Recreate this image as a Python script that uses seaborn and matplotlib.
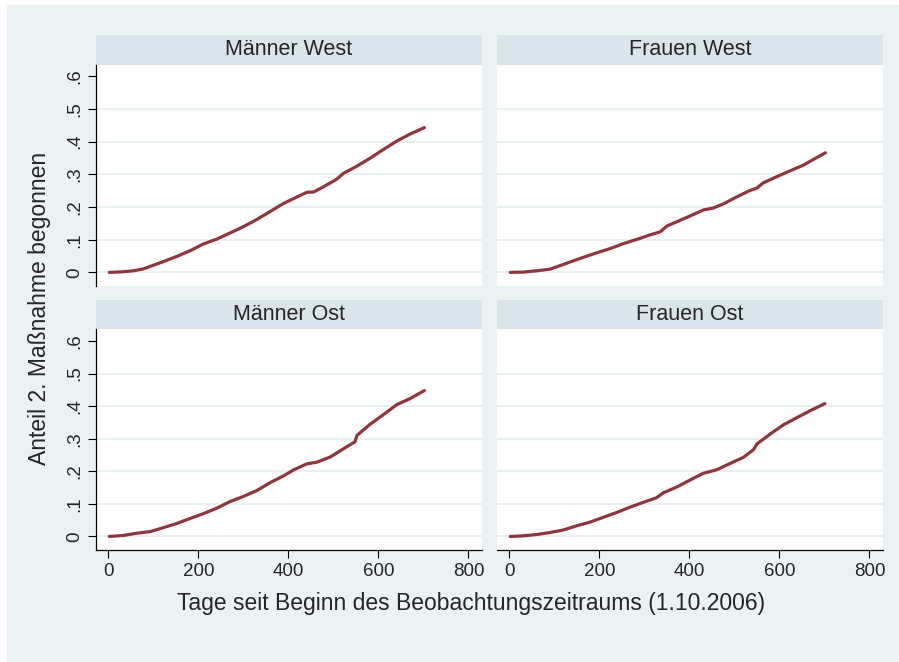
import pandas as pd
import matplotlib
matplotlib.use("Agg")
import matplotlib.pyplot as plt
from matplotlib.patches import Rectangle
import seaborn as sns

sns.set_style("white")
plt.rcParams['font.family'] = ['Liberation Sans', 'DejaVu Sans']

# Werte (Tage seit 1.10.2006, Anteil)
tage_mw = [2, 33, 56, 78, 96, 122, 152, 181, 211, 241, 271, 300, 330, 359, 389,
           419, 441, 456, 478, 507, 522, 552, 581, 611, 641, 670, 702]
anteil_mw = [0.0, 0.002, 0.005, 0.011, 0.020, 0.033, 0.049, 0.066, 0.087, 0.102,
             0.121, 0.140, 0.162, 0.186, 0.211, 0.231, 0.245, 0.246, 0.262, 0.285,
             0.303, 0.325, 0.349, 0.376, 0.402, 0.423, 0.443]

tage_fw = [2, 31, 61, 90, 105, 135, 164, 194, 224, 253, 283, 313, 335, 350, 372,
           402, 431, 453, 476, 505, 535, 550, 564, 594, 624, 653, 676, 702]
anteil_fw = [0.0, 0.001, 0.005, 0.010, 0.017, 0.032, 0.046, 0.060, 0.073, 0.088,
             0.101, 0.115, 0.124, 0.142, 0.155, 0.173, 0.191, 0.197, 0.210, 0.231,
             0.251, 0.258, 0.274, 0.293, 0.311, 0.328, 0.346, 0.366]

tage_mo = [2, 33, 63, 93, 122, 152, 181, 211, 241, 270, 300, 330, 359, 389, 411,
           441, 463, 493, 522, 548, 552, 581, 611, 641, 670, 702]
anteil_mo = [0.0, 0.003, 0.010, 0.015, 0.027, 0.040, 0.055, 0.070, 0.087, 0.107,
             0.123, 0.141, 0.165, 0.186, 0.204, 0.223, 0.228, 0.244, 0.269, 0.291,
             0.310, 0.344, 0.374, 0.405, 0.423, 0.448]

tage_fo = [2, 31, 61, 90, 120, 150, 179, 209, 239, 268, 298, 327, 342, 372, 401,
           431, 461, 490, 520, 542, 550, 579, 609, 639, 668, 701]
anteil_fo = [0.0, 0.002, 0.006, 0.012, 0.020, 0.033, 0.044, 0.059, 0.074, 0.090,
             0.105, 0.119, 0.134, 0.152, 0.173, 0.194, 0.205, 0.224, 0.243, 0.266,
             0.284, 0.314, 0.343, 0.365, 0.386, 0.408]

gruppen = ["Männer West", "Frauen West", "Männer Ost", "Frauen Ost"]
y_ticks = [0, 0.1, 0.2, 0.3, 0.4, 0.5, 0.6]
y_labels = ["0", ".1", ".2", ".3", ".4", ".5", ".6"]
x_ticks = [0, 200, 400, 600, 800]

teile = []
for g, t, a in zip(gruppen, [tage_mw, tage_fw, tage_mo, tage_fo],
                   [anteil_mw, anteil_fw, anteil_mo, anteil_fo]):
    teile.append(pd.DataFrame({"gruppe": g, "tage": t, "anteil": a}))
df = pd.concat(teile, ignore_index=True)

bg = "#EAF2F3"
strip_col = "#D9E5EA"
grid_col = "#E9F0F2"
line_col = "#90353B"

W, H = 899, 662
fig = plt.figure(figsize=(W / 100, H / 100), dpi=100, facecolor="white")
fig.add_artist(Rectangle((7 / W, 0), 1 - 7 / W, 1 - 5 / H, transform=fig.transFigure,
                         facecolor=bg, edgecolor="none", zorder=0))


def px_axes(x0, y0, x1, y1, **kw):
    return fig.add_axes([x0 / W, 1 - y1 / H, (x1 - x0) / W, (y1 - y0) / H], **kw)


spalten = [(96, 482), (497, 883)]
zeilen = [((35, 64.5), (64.5, 285.5)), ((300, 329.3), (329.3, 549.5))]

for i, g in enumerate(gruppen):
    r, c = divmod(i, 2)
    x0, x1 = spalten[c]
    (s0, s1), (p0, p1) = zeilen[r]

    # Titelleiste
    sax = px_axes(x0, s0, x1, s1, facecolor=strip_col)
    sax.set_xticks([])
    sax.set_yticks([])
    for sp in sax.spines.values():
        sp.set_visible(False)
    sax.text(0.5, 0.5, g, ha="center", va="center", fontsize=15.5,
             transform=sax.transAxes)

    ax = px_axes(x0, p0, x1, p1, facecolor="white")
    for v in y_ticks[:-1]:
        ax.axhline(v, color=grid_col, lw=1.4, zorder=0)
    sns.lineplot(data=df[df["gruppe"] == g], x="tage", y="anteil", ax=ax,
                 color=line_col, lw=2.3, estimator=None)
    ax.set_xlim(-27.5, 830)
    ax.set_ylim(-0.04, 0.636)
    ax.set_xlabel("")
    ax.set_ylabel("")
    ax.set_xticks(x_ticks)
    ax.set_yticks(y_ticks)
    ax.set_yticklabels(y_labels)

    for sp in ["top", "right"]:
        ax.spines[sp].set_visible(False)
    ax.spines["left"].set_visible(c == 0)
    ax.spines["bottom"].set_visible(r == 1)
    for sp in ["left", "bottom"]:
        ax.spines[sp].set_color("black")
        ax.spines[sp].set_linewidth(0.9)

    ax.tick_params(axis="y", left=(c == 0), labelleft=(c == 0), length=6,
                   width=0.8, pad=3, labelsize=13.5, labelrotation=90,
                   color="black")
    ax.tick_params(axis="x", bottom=(r == 1), labelbottom=(r == 1), length=5.5,
                   width=0.8, pad=4.5, labelsize=13.5, color="black")
    for lab in ax.get_yticklabels():
        lab.set_va("center")

fig.text(471 / W, 1 - 610 / H, "Tage seit Beginn des Beobachtungszeitraums (1.10.2006)",
         ha="center", va="baseline", fontsize=16.5)
fig.text(40 / W, 1 - 308 / H, "Anteil 2. Maßnahme begonnen", ha="center", va="center",
         rotation=90, fontsize=16.5)

fig.savefig("out.png", dpi=100, facecolor=fig.get_facecolor())
